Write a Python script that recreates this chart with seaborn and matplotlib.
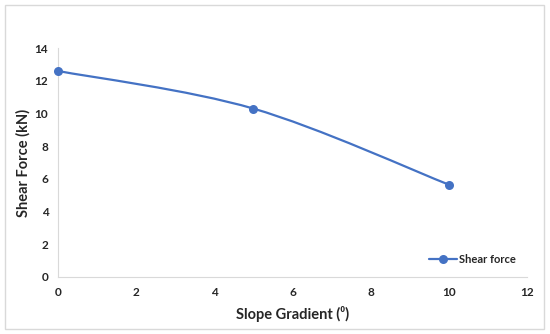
import numpy as np
import pandas as pd
import seaborn as sns
import matplotlib.pyplot as plt
from matplotlib.path import Path
from matplotlib.patches import PathPatch, Rectangle


sns.set_theme(style="white")
plt.rcParams["font.family"] = ["Lato", "DejaVu Sans"]

slope = [0, 5, 10]
shear = [12.6, 10.3, 5.65]
series_name = "Shear force"

BLUE = "#4472C4"
GRAY = "#D9D9D9"


def smooth_path(xs, ys):
    # excel style smoothing: bezier segments with catmull-rom controls
    pts = np.column_stack([xs, ys]).astype(float)
    padded = np.vstack([pts[0], pts, pts[-1]])
    verts = [pts[0]]
    codes = [Path.MOVETO]
    for i in range(len(pts) - 1):
        p0, p1, p2, p3 = padded[i], padded[i + 1], padded[i + 2], padded[i + 3]
        verts += [p1 + (p2 - p0) / 6, p2 - (p3 - p1) / 6, p2]
        codes += [Path.CURVE4] * 3
    return Path(verts, codes)


df = pd.DataFrame({"slope": slope, "shear": shear})

fig = plt.figure(figsize=(5.5, 3.34), dpi=100)
ax = fig.add_axes([0.1055, 0.1707, 0.8525, 0.6853])

sns.lineplot(data=df, x="slope", y="shear", marker="o", color=BLUE,
             linewidth=1.6, markersize=6.5, markeredgewidth=0,
             label=series_name, ax=ax)

leg = ax.legend(loc="lower right", bbox_to_anchor=(0.985, 0.035), frameon=False,
                prop={"weight": "bold", "size": 8}, handlelength=2.6,
                handletextpad=0.1, borderaxespad=0)

# swap the straight segments for the smoothed curve
pts_line = ax.lines[0]
pts_line.set_linestyle("None")
pts_line.set_clip_on(False)
pts_line.set_zorder(3)
ax.add_patch(PathPatch(smooth_path(slope, shear), facecolor="none",
                       edgecolor=BLUE, linewidth=1.6, zorder=2.5))

ax.set_xlim(0, 12)
ax.set_ylim(0, 14)
ax.set_xticks(range(0, 13, 2))
ax.set_yticks(range(0, 15, 2))
ax.tick_params(length=0, labelsize=8.5, pad=7)
for lab in ax.get_xticklabels() + ax.get_yticklabels():
    lab.set_fontweight("bold")

ax.set_xlabel("Slope Gradient (\u2070)", fontsize=10.5, fontweight="bold", labelpad=6)
ax.set_ylabel("Shear Force (kN)", fontsize=10.5, fontweight="bold", labelpad=3)

sns.despine(ax=ax)
for side in ["left", "bottom"]:
    ax.spines[side].set_color(GRAY)
    ax.spines[side].set_linewidth(0.8)

fig.patches.append(Rectangle((5 / 550, 5 / 334), 539 / 550, 324 / 334,
                             transform=fig.transFigure, fill=False,
                             edgecolor=GRAY, linewidth=1))

plt.savefig("out.png", dpi=100)
